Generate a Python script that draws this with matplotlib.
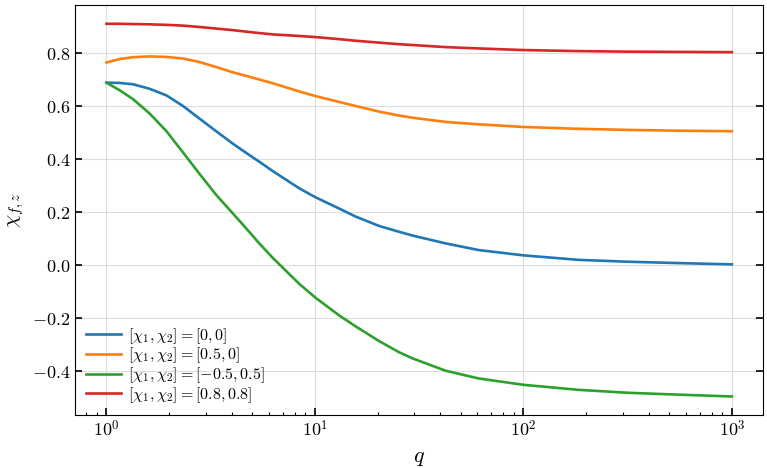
import matplotlib
matplotlib.use("Agg")
import matplotlib.pyplot as plt
from matplotlib.ticker import FuncFormatter, NullFormatter, MultipleLocator
import numpy as np

plt.rcParams['font.family'] = 'serif'
plt.rcParams['font.serif'] = ['DejaVu Serif']
plt.rcParams['mathtext.fontset'] = 'cm'

# values
q = [1, 1.16, 1.34, 1.61, 1.94, 2.33, 2.79, 3.36, 4.04, 4.85, 5.41, 6.27, 8.4, 10,
     13.1, 15.7, 20.3, 25.3, 29.3, 42.4, 61, 100, 184, 316, 550, 1000]
chi_00 = [0.688, 0.687, 0.682, 0.665, 0.640, 0.600, 0.553, 0.505, 0.458, 0.415, 0.390,
          0.355, 0.290, 0.257, 0.213, 0.183, 0.148, 0.126, 0.112, 0.082, 0.057, 0.037,
          0.020, 0.013, 0.008, 0.003]
chi_05_0 = [0.764, 0.777, 0.784, 0.787, 0.785, 0.779, 0.766, 0.747, 0.727, 0.710, 0.700,
            0.686, 0.655, 0.638, 0.615, 0.600, 0.579, 0.564, 0.556, 0.540, 0.531, 0.521,
            0.514, 0.510, 0.507, 0.505]
chi_m05_05 = [0.688, 0.659, 0.626, 0.572, 0.505, 0.425, 0.345, 0.265, 0.195, 0.125, 0.082,
              0.028, -0.070, -0.121, -0.190, -0.231, -0.286, -0.328, -0.351, -0.398, -0.427,
              -0.451, -0.470, -0.481, -0.488, -0.495]
chi_08_08 = [0.910, 0.910, 0.909, 0.908, 0.906, 0.903, 0.898, 0.892, 0.886, 0.879, 0.875,
             0.870, 0.864, 0.860, 0.852, 0.846, 0.839, 0.833, 0.830, 0.822, 0.817, 0.811,
             0.807, 0.805, 0.804, 0.803]

labels = [r'$[\chi_1, \chi_2] = [0, 0]$',
          r'$[\chi_1, \chi_2] = [0.5, 0]$',
          r'$[\chi_1, \chi_2] = [-0.5, 0.5]$',
          r'$[\chi_1, \chi_2] = [0.8, 0.8]$']

fig = plt.figure(figsize=(7.67, 4.68), dpi=100)
ax = fig.add_axes([0.098, 0.113, 0.897, 0.876])

for y, lab in zip([chi_00, chi_05_0, chi_m05_05, chi_08_08], labels):
    ax.plot(q, y, lw=1.9, label=lab)

ax.set_xscale('log')
ax.yaxis.set_major_locator(MultipleLocator(0.2))
ax.xaxis.set_major_formatter(FuncFormatter(lambda v, p: r'$10^{%d}$' % round(np.log10(v))))
ax.xaxis.set_minor_formatter(NullFormatter())
ax.yaxis.set_major_formatter(FuncFormatter(lambda v, p: r'$%.1f$' % v if abs(v) > 1e-9 else r'$0.0$'))

ax.tick_params(which='both', direction='in', labelsize=13)
ax.tick_params(axis='y', which='major', right=True, length=5, width=1.2)
ax.tick_params(axis='x', which='major', length=5, width=1.2)
ax.tick_params(axis='x', which='minor', length=2.5, width=0.8)
ax.grid(True, which='major', color='#dddddd', lw=0.8)
ax.set_axisbelow(True)

ax.set_xlabel(r'$q$', fontsize=16)
ax.set_ylabel(r'$\chi_{f,z}$', fontsize=15)

ax.legend(loc='lower left', frameon=False, fontsize=11.5, handlelength=2.2,
          labelspacing=0.0, borderaxespad=0.25, handletextpad=0.45)

fig.savefig('out.png', dpi=100)
